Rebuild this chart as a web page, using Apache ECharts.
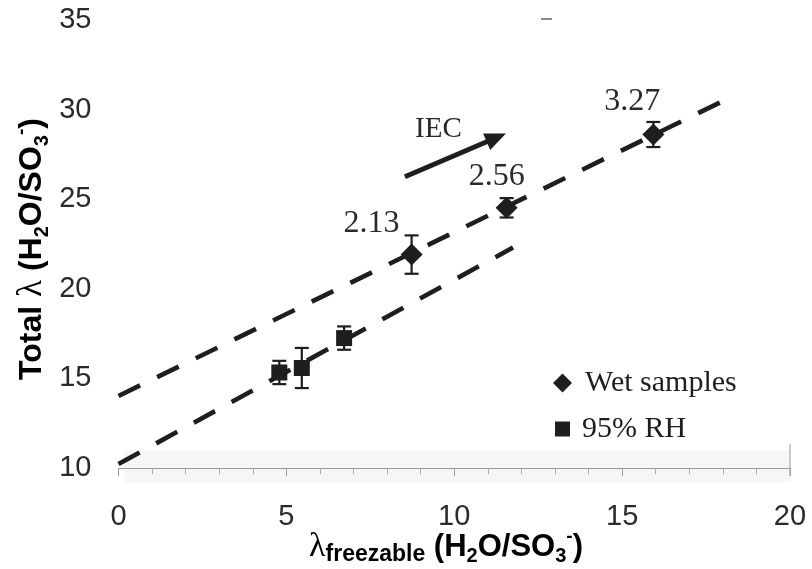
<!DOCTYPE html>
<html>
<head>
<meta charset="utf-8">
<script src="https://cdn.jsdelivr.net/npm/echarts@6/dist/echarts.min.js"></script>
<style>
  html, body { margin: 0; padding: 0; background: #fff; }
  #chart { width: 812px; height: 569px; }
</style>
</head>
<body>
<div id="chart"></div>
<script>
// Fully hydrated membranes: freezable water vs. total water uptake
const wetFreezable = [8.73, 11.56, 15.93];
const wetTotal = [21.91, 24.52, 28.61];
const wetError = [1.07, 0.54, 0.70];
const iecLabels = ['2.13', '2.56', '3.27'];

// Membranes equilibrated at 95% RH
const rhFreezable = [4.79, 5.46, 6.72];
const rhTotal = [15.33, 15.58, 17.25];
const rhError = [0.65, 1.12, 0.65];

// Linear trend lines (end points)
const wetFit = [[0, 14.02], [17.92, 30.4]];
const rhFit = [[0, 10.22], [11.75, 22.3]];

// Direction of increasing IEC
const iecArrow = [[8.53, 26.25], [11.54, 28.67]];

const xTicks = { min: 0, max: 20, step: 5 };
const yTicks = { min: 10, max: 35, step: 5 };

const INK = '#1e1e1e';
const SERIF = '"Liberation Serif", "Times New Roman", serif';
const SANS = '"Liberation Sans", Arial, sans-serif';

const wetPoints = wetFreezable.map((x, i) => [x, wetTotal[i], wetError[i]]);
const rhPoints = rhFreezable.map((x, i) => [x, rhTotal[i], rhError[i]]);

const labelOffsets = [[-40, -31], [-10, -31], [-21, -33]];

function renderErrorBar(params, api) {
  const x = api.value(0), y = api.value(1), e = api.value(2);
  const top = api.coord([x, y + e]);
  const bot = api.coord([x, y - e]);
  const half = 7;
  const style = { stroke: INK, lineWidth: 2.2 };
  return {
    type: 'group',
    children: [
      { type: 'line', shape: { x1: top[0], y1: top[1], x2: bot[0], y2: bot[1] }, style },
      { type: 'line', shape: { x1: top[0] - half, y1: top[1], x2: top[0] + half, y2: top[1] }, style },
      { type: 'line', shape: { x1: bot[0] - half, y1: bot[1], x2: bot[0] + half, y2: bot[1] }, style }
    ]
  };
}

function renderArrow(params, api) {
  const a = api.coord([api.value(0), api.value(1)]);
  const b = api.coord([api.value(2), api.value(3)]);
  const dx = b[0] - a[0], dy = b[1] - a[1];
  const len = Math.sqrt(dx * dx + dy * dy);
  const ux = dx / len, uy = dy / len;
  const headLen = 21, headHalf = 9;
  const bx = b[0] - ux * headLen, by = b[1] - uy * headLen;
  return {
    type: 'group',
    children: [
      { type: 'line', shape: { x1: a[0], y1: a[1], x2: bx + ux * 2, y2: by + uy * 2 },
        style: { stroke: INK, lineWidth: 4.8 } },
      { type: 'polygon', shape: { points: [
          [b[0], b[1]],
          [bx - uy * headHalf, by + ux * headHalf],
          [bx + uy * headHalf, by - ux * headHalf]
        ] }, style: { fill: INK } }
    ]
  };
}

function titleRich(size) {
  return {
    b: { fontFamily: SANS, fontWeight: 'bold', fontSize: size, lineHeight: size + 8, color: INK },
    g: { fontFamily: SERIF, fontSize: size + 3, lineHeight: size + 8, color: INK },
    sub: { fontFamily: SANS, fontWeight: 'bold', fontSize: Math.round(size * 0.64), lineHeight: Math.round(size * 0.64), verticalAlign: 'bottom', color: INK },
    sup: { fontFamily: SANS, fontWeight: 'bold', fontSize: Math.round(size * 0.6), lineHeight: Math.round(size * 0.6), verticalAlign: 'top', color: INK },
    fs: { fontFamily: SANS, fontWeight: 'bold', fontSize: Math.round(size * 0.74), lineHeight: Math.round(size * 0.74), verticalAlign: 'bottom', color: INK }
  };
}

const chart = echarts.init(document.getElementById('chart'), null, { renderer: 'canvas' });

chart.setOption({
  backgroundColor: '#ffffff',
  animation: false,
  grid: { left: 118.5, top: 20, width: 671.5, height: 448 },
  xAxis: {
    type: 'value',
    min: xTicks.min, max: xTicks.max, interval: xTicks.step,
    axisLine: { show: true, lineStyle: { color: '#9a9a9a', width: 1.2 } },
    axisTick: { show: true, length: 8, lineStyle: { color: '#9a9a9a' } },
    minorTick: { show: true, splitNumber: 5, length: 6, lineStyle: { color: '#aaaaaa' } },
    splitLine: { show: false },
    axisLabel: { margin: 34, fontFamily: SANS, fontSize: 29, color: '#2a2a2a' }
  },
  yAxis: {
    type: 'value',
    min: yTicks.min, max: yTicks.max, interval: yTicks.step,
    axisLine: { show: false },
    axisTick: { show: false },
    splitLine: { show: false },
    axisLabel: { margin: 27, fontFamily: SANS, fontSize: 29, color: '#2a2a2a' }
  },
  legend: [
    {
      data: [{ name: 'Wet samples', icon: 'diamond' }],
      left: 548, top: 363, orient: 'vertical',
      itemWidth: 19, itemHeight: 19,
      textStyle: { fontFamily: SERIF, fontSize: 30, color: INK, padding: [0, 0, 0, 8] },
      selectedMode: false
    },
    {
      data: [{ name: '95% RH', icon: 'rect' }],
      left: 550, top: 409, orient: 'vertical',
      itemWidth: 15, itemHeight: 15,
      textStyle: { fontFamily: SERIF, fontSize: 30, color: INK, padding: [0, 0, 0, 7] },
      selectedMode: false
    }
  ],
  graphic: [
    { type: 'rect', z: 0, silent: true,
      shape: { x: 124, y: 450, width: 666, height: 32 },
      style: { fill: '#f6f6f6' } },
    { type: 'line', z: 1, silent: true,
      shape: { x1: 790, y1: 444, x2: 790, y2: 476 },
      style: { stroke: '#a8a8a8', lineWidth: 1.2 } },
    { type: 'rect', z: 1, silent: true,
      shape: { x: 541, y: 18, width: 11, height: 2 },
      style: { fill: '#8a8a8a' } },
    {
      type: 'text', z: 5, x: 32, y: 249, rotation: Math.PI / 2,
      style: {
        text: '{b|Total }{g|λ}{b| (H}{sub|2}{b|O/SO}{sub|3}{sup|-}{b|)}',
        rich: titleRich(32), align: 'center', verticalAlign: 'middle'
      }
    },
    {
      type: 'text', z: 5, x: 446, y: 547,
      style: {
        text: '{g|λ}{fs|freezable}{b| (H}{sub|2}{b|O/SO}{sub|3}{sup|-}{b|)}',
        rich: titleRich(31), align: 'center', verticalAlign: 'middle'
      }
    }
  ],
  series: [
    {
      name: 'wet-fit', type: 'line', data: wetFit, symbol: 'none', z: 2,
      lineStyle: { color: INK, width: 4.6, type: [24, 19], cap: 'butt' },
      silent: true
    },
    {
      name: 'rh-fit', type: 'line', data: rhFit, symbol: 'none', z: 2,
      lineStyle: { color: INK, width: 4.6, type: [24, 19], cap: 'butt' },
      silent: true
    },
    {
      name: 'iec-arrow', type: 'custom', z: 3, silent: true,
      data: [[iecArrow[0][0], iecArrow[0][1], iecArrow[1][0], iecArrow[1][1]]],
      renderItem: renderArrow
    },
    { name: 'wet-err', type: 'custom', z: 3, silent: true, data: wetPoints, renderItem: renderErrorBar },
    { name: 'rh-err', type: 'custom', z: 3, silent: true, data: rhPoints, renderItem: renderErrorBar },
    {
      name: 'Wet samples', type: 'scatter', z: 4, symbol: 'diamond', symbolSize: 22,
      itemStyle: { color: INK, opacity: 1 },
      data: wetPoints.map((p, i) => ({
        value: p,
        label: {
          show: true, position: 'inside', offset: labelOffsets[i],
          formatter: iecLabels[i],
          fontFamily: SERIF, fontSize: 32, color: '#2a2a2a'
        }
      }))
    },
    {
      name: '95% RH', type: 'scatter', z: 4, symbol: 'rect', symbolSize: 16,
      itemStyle: { color: INK, opacity: 1 },
      data: rhPoints
    }
  ]
});

// IEC caption beside the arrow
const iecPos = chart.convertToPixel({ gridIndex: 0 }, [9.53, 28.9]);
chart.setOption({
  graphic: [
    {}, {}, {}, {}, {},
    {
      type: 'text', z: 5, x: iecPos[0], y: iecPos[1],
      style: { text: 'IEC', fontFamily: SERIF, fontSize: 29, fill: '#2a2a2a', align: 'center', verticalAlign: 'middle' }
    }
  ]
});
</script>
</body>
</html>
